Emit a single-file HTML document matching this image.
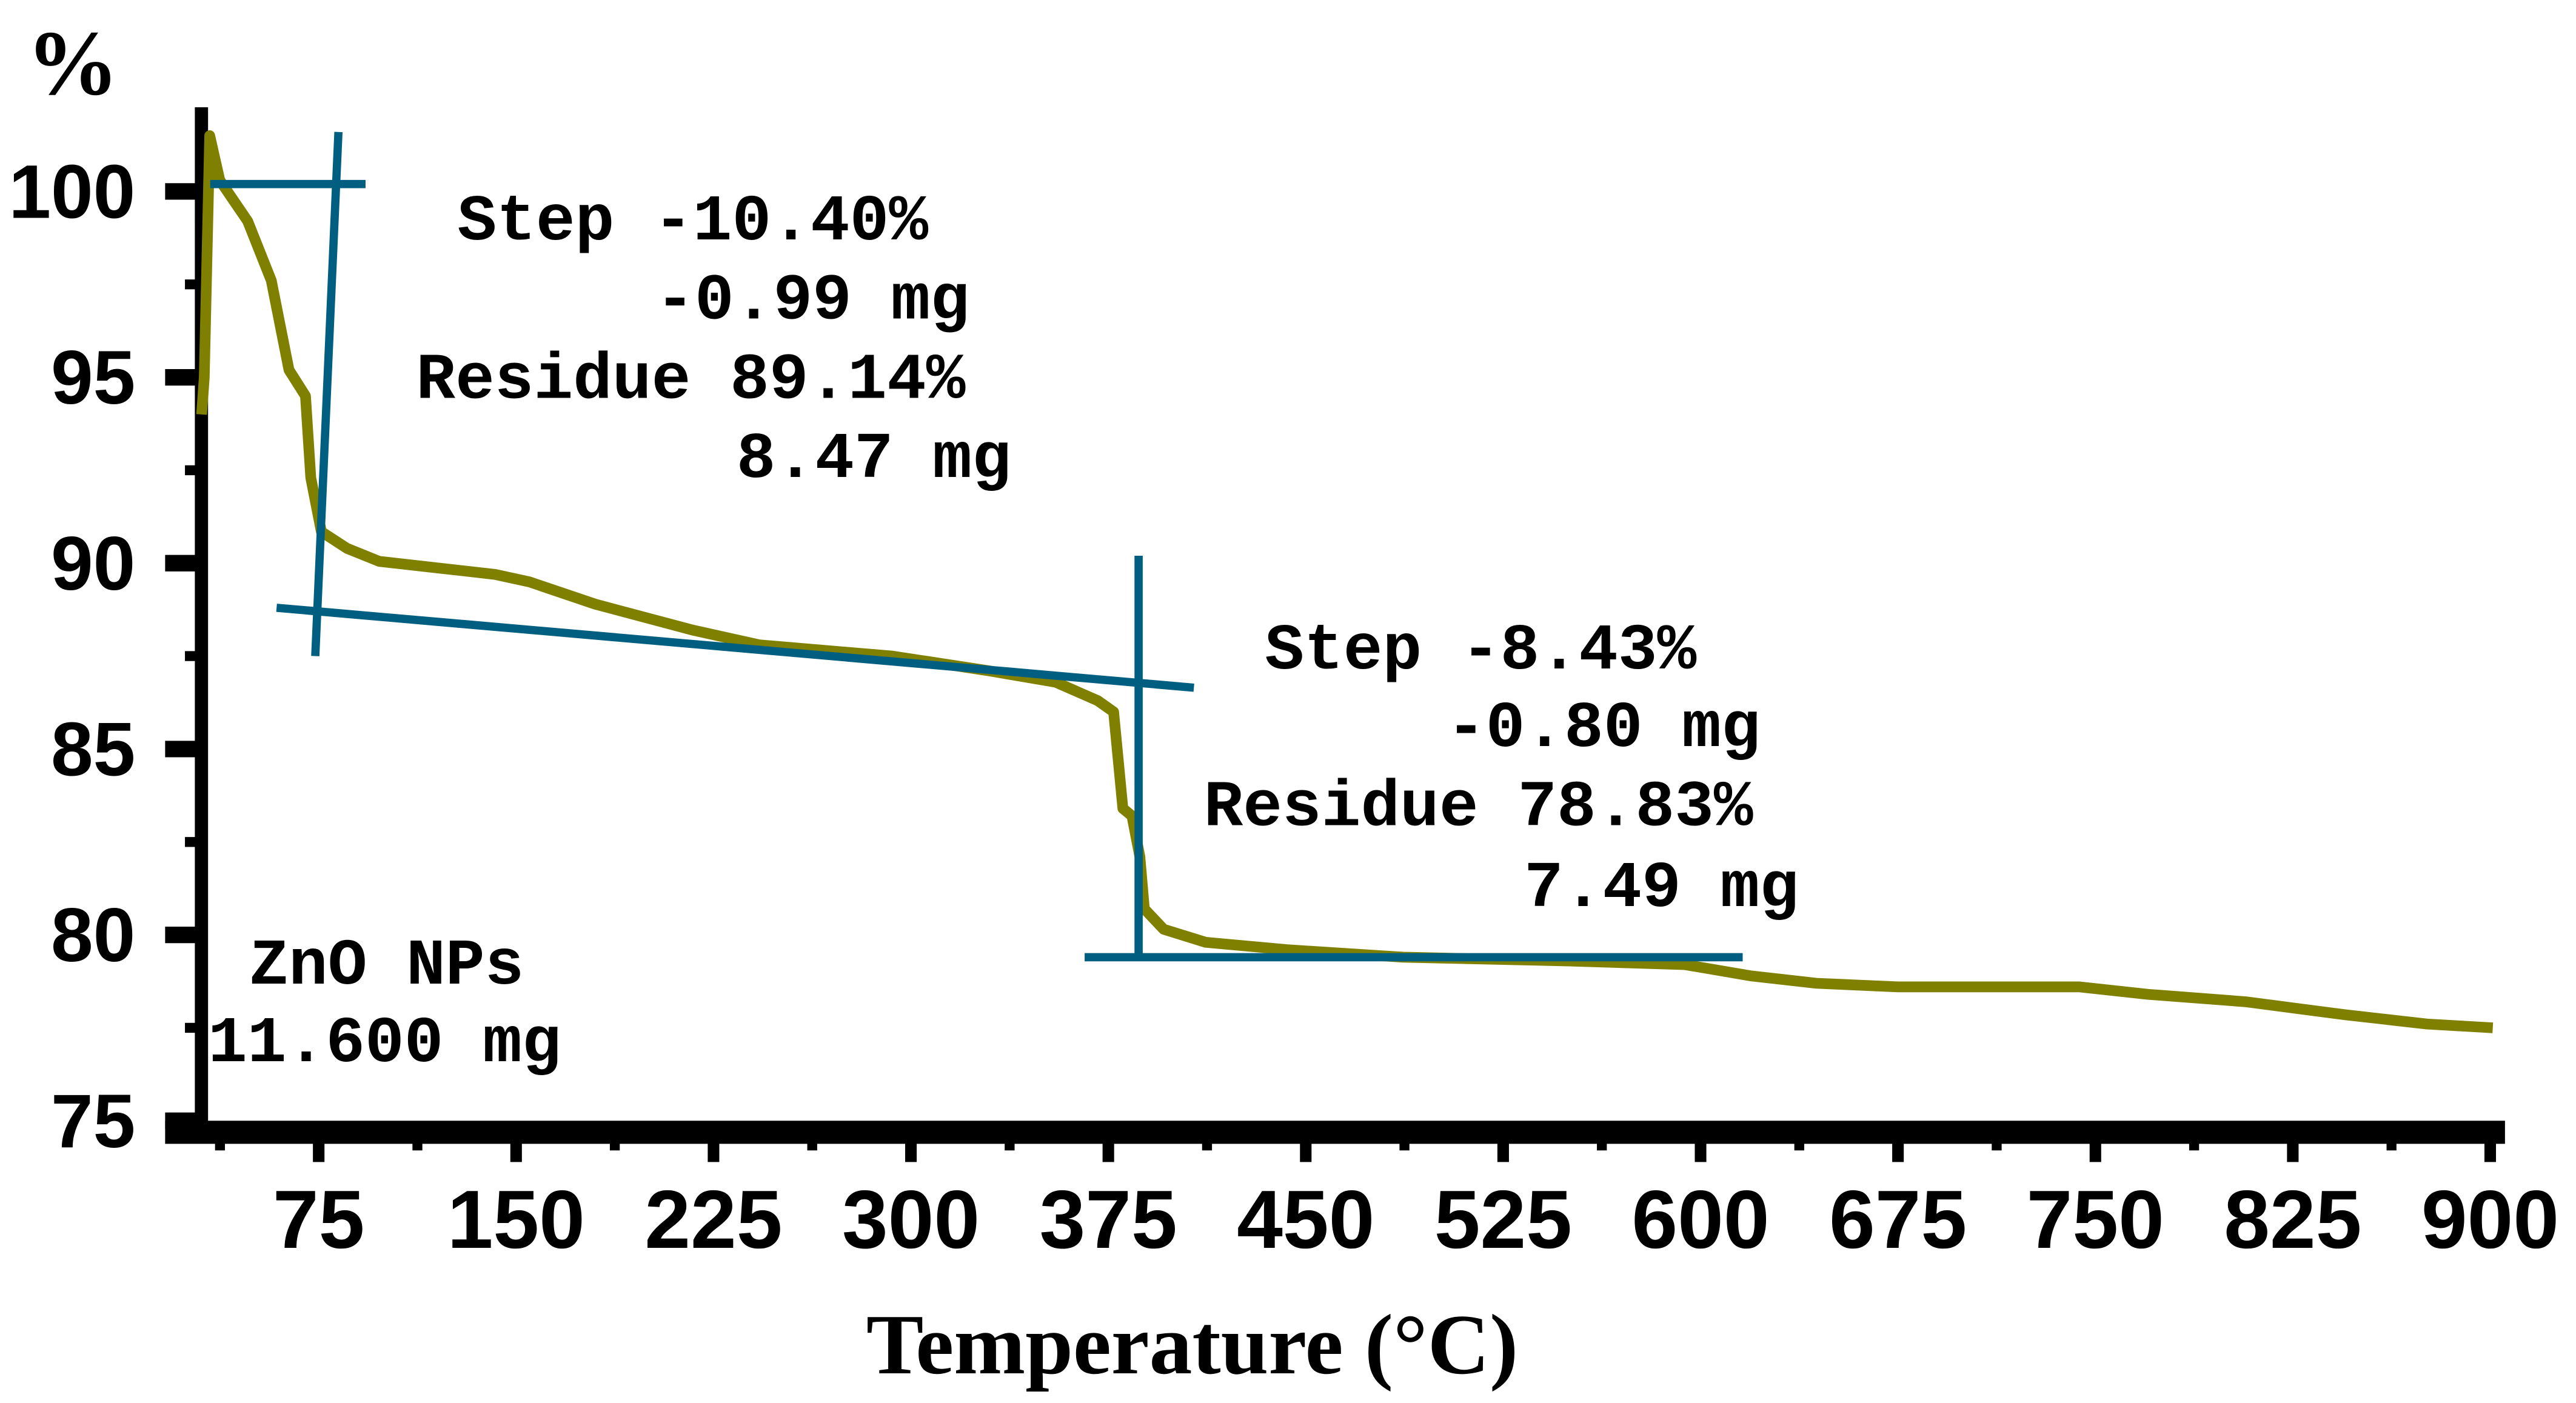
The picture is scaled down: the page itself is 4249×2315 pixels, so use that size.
<!DOCTYPE html>
<html><head><meta charset="utf-8"><style>
html,body{margin:0;padding:0;background:#fff;width:4249px;height:2315px;overflow:hidden}
svg{display:block}
</style></head><body>
<svg id="chart" width="4249" height="2315" viewBox="0 0 1560 850" preserveAspectRatio="none" xmlns="http://www.w3.org/2000/svg"></svg>
<script>
const xTickLabels = [75,150,225,300,375,450,525,600,675,750,825,900];
const yTickLabels = [75,80,85,90,95,100];
const temps = [30.5,31.5,33.6,37.4,48,57,63.7,70,72,76,85.7,98,117,142,155,180,217,242.5,293,330,355,371,377,380.5,384,387,388.7,396,412,443,487,550,594,619,644,675,719,744,770,807,845,876,901];
const mass = [94,95,101.5,100.3,99.2,97.6,95.2,94.5,92.3,90.85,90.4,90.05,89.9,89.7,89.5,88.9,88.2,87.8,87.5,87.1,86.8,86.3,86.0,83.4,83.2,82.1,80.7,80.15,79.8,79.6,79.4,79.3,79.2,78.9,78.7,78.6,78.6,78.6,78.4,78.2,77.85,77.6,77.5];
const tangentT = [[33.8,92.8,100.2,100.2],[82.5,73.7,101.6,87.5],[59,407.5,88.8,86.65],[386.5,386.5,90.2,79.4],[366,616,79.4,79.4]];
const stepText1 = ["Step -10.40%","-0.99 mg","Residue 89.14%","8.47 mg"];
const stepText2 = ["Step -8.43%","-0.80 mg","Residue 78.83%","7.49 mg"];
const sampleText = ["ZnO NPs","11.600 mg"];

const NS="http://www.w3.org/2000/svg";
const svg=document.getElementById('chart');
const X=t=>193+(t-75)*1.594;
const Y=p=>116+(100-p)*22.52;
function mk(tag,attrs,parent){const e=document.createElementNS(NS,tag);for(const k in attrs)e.setAttribute(k,attrs[k]);(parent||svg).appendChild(e);return e;}

let e=mk('line',{x1:122,y1:65,x2:122,y2:686,stroke:'#000','stroke-width':8});


e=mk('line',{x1:100,y1:686,x2:1517,y2:686,stroke:'#000','stroke-width':14});



yTickLabels.forEach((v,i)=>{
  const y=Y(v);
  let t=mk('line',{x1:100,y1:y,x2:122,y2:y,stroke:'#000','stroke-width':10});
  
  
  if(i<yTickLabels.length-1){
    let m=mk('line',{x1:112,y1:Y(v+2.5),x2:122,y2:Y(v+2.5),stroke:'#000','stroke-width':6});
    
    
  }
  let l=mk('text',{x:82,y:y+16,'text-anchor':'end','font-family':'Liberation Sans, sans-serif','font-weight':'bold','font-size':46,fill:'#000'});
  l.textContent=v;
  
  
});
xTickLabels.forEach(v=>{
  const x=X(v);
  let t=mk('line',{x1:x,y1:686,x2:x,y2:704,stroke:'#000','stroke-width':7});
  
  
  let m=mk('line',{x1:X(v-37.5),y1:686,x2:X(v-37.5),y2:697,stroke:'#000','stroke-width':6});
  
  
  let l=mk('text',{x:x,y:756,'text-anchor':'middle','font-family':'Liberation Sans, sans-serif','font-weight':'bold','font-size':50,fill:'#000'});
  l.textContent=v;
  
  
});

let yt=mk('text',{x:16,y:57,'font-family':'Liberation Serif, serif','font-weight':'bold','font-size':56,fill:'#000'});
yt.textContent='%';


let xt=mk('text',{x:722,y:832,'text-anchor':'middle','font-family':'Liberation Serif, serif','font-weight':'bold','font-size':52,fill:'#000'});
xt.textContent='Temperature (°C)';



const pts=temps.map((t,i)=>X(t).toFixed(1)+','+Y(mass[i]).toFixed(1)).join(' ');
let c=mk('polyline',{points:pts,fill:'none',stroke:'#808000','stroke-width':6.5,'stroke-linejoin':'round'});



tangentT.forEach(s=>{
  let l=mk('line',{x1:X(s[0]),x2:X(s[1]),y1:Y(s[2]),y2:Y(s[3]),stroke:'#005f80','stroke-width':5});
  
  
});

function block(lines,xs,ys,name){
  lines.forEach((s,i)=>{
    let t=mk('text',{x:xs[i],y:ys[i],'font-family':'Liberation Mono, monospace','font-weight':'bold','font-size':39.6,fill:'#000','xml:space':'preserve'});
    t.textContent=s;
    
    
  });
}
block(stepText1,[277,397,252,446],[145,193,241,289],'step1-annotation');
block(stepText2,[766,876,729,923],[405,452,500,549],'step2-annotation');
block(sampleText,[151,126],[596,643],'sample-label');
</script>
</body></html>
